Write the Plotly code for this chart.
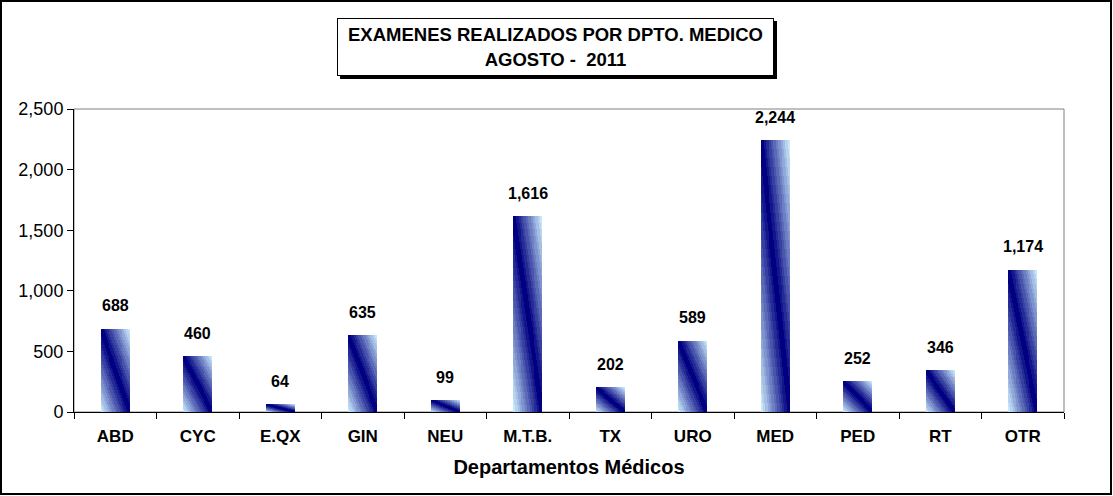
import plotly.graph_objects as go

categories = ["ABD", "CYC", "E.QX", "GIN", "NEU", "M.T.B.", "TX", "URO", "MED", "PED", "RT", "OTR"]
values = [688, 460, 64, 635, 99, 1616, 202, 589, 2244, 252, 346, 1174]
y_ticks = [0, 500, 1000, 1500, 2000, 2500]

W, H = 1113, 496
ML, MR, MT, MB = 74, 49, 109, 84
PW, PH = W - ML - MR, H - MT - MB

def px_x(x):
    return (x - ML) / PW

def px_y(y):
    return (H - MB - y) / PH

FONT = "Arial, Liberation Sans, sans-serif"

fig = go.Figure()

# Diagonal gradient approximation (dark along the top-left -> bottom-right diagonal)
n_layers = 12
n_slices = 30
light = (200, 232, 250)
dark = (0, 0, 128)
full_w = 0.35
for i in range(n_layers):
    r = 1 - i / n_layers
    t = i / (n_layers - 1)
    c = tuple(round(light[k] + (dark[k] - light[k]) * t) for k in range(3))
    xs, ys, bases, widths, offsets = [], [], [], [], []
    for cat, val in zip(categories, values):
        for s in range(n_slices):
            v = (s + 0.5) / n_slices  # 0 = top, 1 = bottom
            left = max(0.0, v - r)
            right = min(1.0, v + r)
            xs.append(cat)
            ys.append(val / n_slices)
            bases.append(val * (1 - (s + 1) / n_slices))
            widths.append(full_w * max(0.0, right - left))
            offsets.append(full_w * (left - 0.5))
    fig.add_trace(go.Bar(
        x=xs, y=ys, base=bases, width=widths, offset=offsets,
        marker=dict(color="rgb(%d,%d,%d)" % c, line=dict(width=0)),
        hoverinfo="skip", showlegend=False,
    ))

for c, v in zip(categories, values):
    fig.add_annotation(x=c, y=v, text="<b>{:,}</b>".format(v), showarrow=False,
                       yshift=23, font=dict(family=FONT, size=16, color="black"))

# Title box with shadow
fig.add_shape(type="rect", xref="paper", yref="paper",
              x0=px_x(340), x1=px_x(777), y0=px_y(79), y1=px_y(21),
              fillcolor="black", line=dict(width=0), layer="above")
fig.add_annotation(xref="paper", yref="paper", x=px_x(555.5), y=px_y(47),
                   text="<b>EXAMENES REALIZADOS POR DPTO. MEDICO<br>AGOSTO -  2011</b>",
                   showarrow=False, width=435, height=56, borderpad=0,
                   bgcolor="white", bordercolor="black", borderwidth=1,
                   xanchor="center", yanchor="middle",
                   font=dict(family=FONT, size=18.5, color="black"))

# Plot area border (grey)
fig.add_shape(type="rect", xref="paper", yref="paper", x0=0, x1=1, y0=0, y1=1,
              line=dict(color="#808080", width=1), layer="below")
# Outer chart border
fig.add_shape(type="rect", xref="paper", yref="paper",
              x0=px_x(1), x1=px_x(1111), y0=px_y(494), y1=px_y(1),
              line=dict(color="black", width=2))

fig.update_layout(
    width=W, height=H,
    margin=dict(l=ML, r=MR, t=MT, b=MB, pad=0),
    paper_bgcolor="white", plot_bgcolor="white",
    barmode="overlay", bargap=0,
    font=dict(family=FONT, color="black"),
    showlegend=False, hovermode=False,
)
fig.update_xaxes(
    type="category", tickson="boundaries", ticks="outside", ticklen=6,
    tickcolor="black", showline=True, linecolor="black", linewidth=1,
    showgrid=False, tickfont=dict(family=FONT, size=17, color="black"),
    ticktext=["<b>%s</b>" % c for c in categories], tickvals=categories,
    categoryorder="array", categoryarray=categories, ticklabelstandoff=9,
    title=dict(text="<b>Departamentos Médicos</b>", font=dict(family=FONT, size=20, color="black"), standoff=14),
)
fig.update_yaxes(
    range=[0, 2500], tickvals=y_ticks, tickformat=",", ticks="outside", ticklen=6,
    tickcolor="black", showline=True, linecolor="black", linewidth=1,
    showgrid=False, zeroline=False, tickfont=dict(family=FONT, size=18, color="black"),
)

fig.write_html("out.html", config={"displayModeBar": False},
               post_script="document.body.style.margin='0';")
